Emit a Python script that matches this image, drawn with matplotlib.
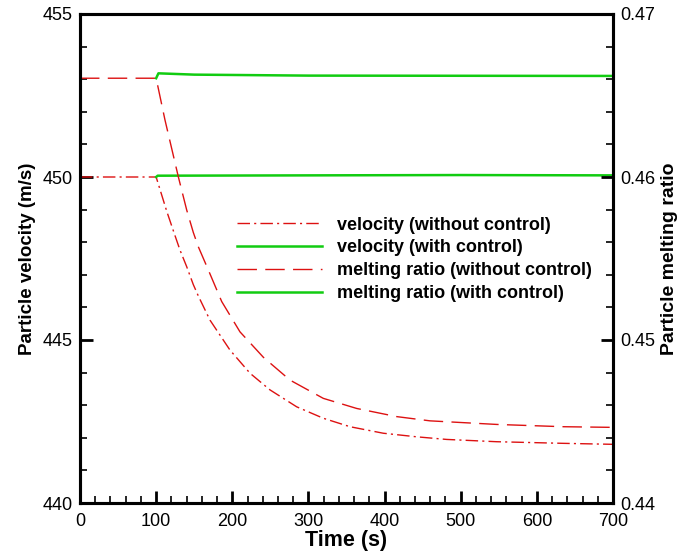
import numpy as np
import matplotlib.pyplot as plt
from matplotlib.ticker import MultipleLocator

# time axis (s) and values
t_vel_off = [0, 100, 109.4, 113.9, 124.8, 131.3, 140.1, 148.8, 155.4, 170.7, 197.0,
             223.3, 249.5, 284.6, 319.5, 354.6, 398.3, 442.2, 481.6, 547.0, 635.0, 700]
vel_off = [450.0, 450.0, 449.29, 448.95, 448.20, 447.76, 447.25, 446.70, 446.35,
           445.61, 444.69, 443.98, 443.47, 442.95, 442.60, 442.34, 442.14, 442.03,
           441.95, 441.88, 441.83, 441.80]

t_vel_on = [100, 102, 300, 500, 700]
vel_on = [450.0, 450.04, 450.05, 450.06, 450.05]

t_mr_off = [0, 100, 111.6, 129.1, 140.1, 148.8, 155.4, 168.5, 186.1, 210.1, 240.8,
            275.8, 319.5, 363.4, 415.9, 459.7, 547.3, 634.8, 700]
mr_off = [0.46606, 0.46606, 0.46350, 0.46002, 0.45798, 0.45660, 0.45572, 0.45430,
          0.45236, 0.45050, 0.44894, 0.44754, 0.44642, 0.44580, 0.44530, 0.44504,
          0.44482, 0.44468, 0.44464]

t_mr_on = [100, 103, 150, 300, 500, 700]
mr_on = [0.46606, 0.46636, 0.46628, 0.46622, 0.46621, 0.46620]

red = '#dd1111'
green = '#11cc11'

plt.rcParams['font.family'] = ['Liberation Sans', 'DejaVu Sans']

fig = plt.figure(figsize=(6.84, 5.52), dpi=100)
ax = fig.add_axes([80 / 684, 49 / 552, 533 / 684, 489 / 552])
ax2 = ax.twinx()

l1, = ax.plot(t_vel_off, vel_off, color=red, lw=1.0, dashes=(9, 3, 1.5, 3),
              label='velocity (without control)')
l2, = ax.plot(t_vel_on, vel_on, color=green, lw=1.8,
              label='velocity (with control)')
l3, = ax2.plot(t_mr_off, mr_off, color=red, lw=1.0, dashes=(14, 6),
               label='melting ratio (without control)')
l4, = ax2.plot(t_mr_on, mr_on, color=green, lw=1.8,
               label='melting ratio (with control)')

ax.set_xlim(0, 700)
ax.set_ylim(440, 455)
ax2.set_ylim(0.44, 0.47)

ax.xaxis.set_major_locator(MultipleLocator(100))
ax.xaxis.set_minor_locator(MultipleLocator(20))
ax.yaxis.set_major_locator(MultipleLocator(5))
ax.yaxis.set_minor_locator(MultipleLocator(1))
ax2.yaxis.set_minor_locator(MultipleLocator(0.002))
ax2.set_yticks([0.44, 0.45, 0.46, 0.47])
ax2.set_yticklabels(['0.44', '0.45', '0.46', '0.47'])

ax.tick_params(axis='x', which='both', direction='in', top=False, labelsize=13, pad=7)
ax.tick_params(axis='y', which='both', direction='in', right=False, labelsize=13, pad=5)
ax2.tick_params(axis='y', which='both', direction='in', labelsize=13, pad=5)
for a in (ax, ax2):
    a.tick_params(which='major', length=9, width=2)
    a.tick_params(which='minor', length=5, width=1.2)
    for s in a.spines.values():
        s.set_linewidth(2.2)

ax.set_xlabel('Time (s)', fontsize=15.5, fontweight='bold', labelpad=0)
ax.set_ylabel('Particle velocity (m/s)', fontsize=13.5, fontweight='bold', labelpad=5)
ax2.set_ylabel('Particle melting ratio', fontsize=14, fontweight='bold', labelpad=4)

leg = ax2.legend(handles=[l1, l2, l3, l4], loc='upper left',
                 bbox_to_anchor=(0.294, 0.5855), frameon=False,
                 prop={'size': 13, 'weight': 'bold'}, handlelength=4.7,
                 handletextpad=0.83, labelspacing=0.32, borderpad=0, borderaxespad=0)

fig.savefig('out.png', dpi=100)
